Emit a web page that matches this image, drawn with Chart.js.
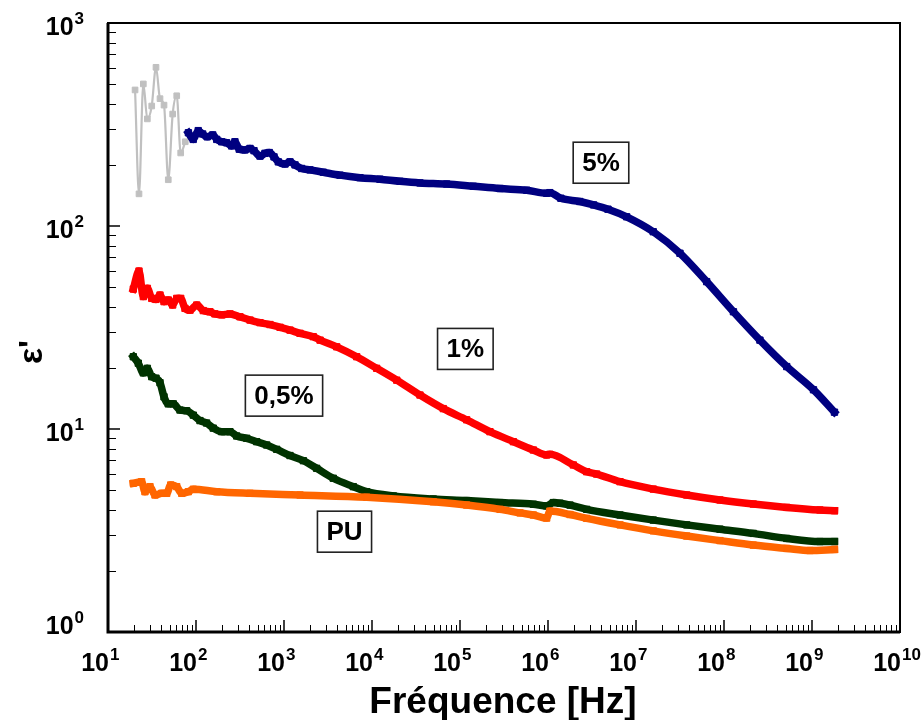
<!DOCTYPE html>
<html>
<head>
<meta charset="utf-8">
<title>ε' - Fréquence</title>
<script src="https://cdn.jsdelivr.net/npm/chart.js@4.4.1/dist/chart.umd.min.js"></script>
<style>
  html, body { margin: 0; padding: 0; background: #fff; }
  #wrap { width: 923px; height: 720px; }
</style>
</head>
<body>
<div id="wrap"><canvas id="chart" width="923" height="720"></canvas></div>
<script>
// axes : exposants des décades
const xTickExps = [1, 2, 3, 4, 5, 6, 7, 8, 9, 10];
const yTickExps = [0, 1, 2, 3];

// 5% - début bruité (gris)
const freqGrey = [20.3, 22.5, 25.2, 28, 31.4, 35.1, 39, 43.3, 48.4, 54.3, 60.4, 67, 75.5];
const epsGrey  = [468, 144, 501, 337, 390, 605, 424, 394, 169, 356, 438, 229, 260];

// 5%
const freq5 = [82, 93, 106, 119, 134, 155, 172, 196, 223, 254, 277, 310, 360, 411, 456, 534, 608, 681, 770, 862,
  1026, 1170, 1334, 1589, 1973, 2797, 4330, 7300, 12300, 20800, 35100, 70600, 141600, 285000, 573000, 966000,
  1.05e6, 1.4e6, 2.3e6, 3.3e6, 4.8e6, 7.83e6, 1.57e7, 3.16e7, 6.35e7, 1.28e8, 2.56e8, 5.16e8, 1.04e9, 1.8e9];
const eps5 = [288, 267, 295, 284, 275, 281, 267, 260, 257, 248, 260, 239, 237, 241, 235, 221, 228, 230, 219, 207,
  202, 207, 200, 192, 189, 184, 178, 173, 170, 166, 163, 161, 157, 153, 150, 145,
  146, 137, 132, 127, 121, 111, 93.7, 73.4, 53.2, 37.8, 27.4, 20.3, 15.6, 12.1];

// 1%
const freq1 = [19.4, 22.5, 25.2, 28, 31.4, 35.1, 39, 43.3, 48.4, 54.3, 60.4, 67, 75, 85.5, 102, 121, 144, 164, 196,
  243, 316, 411, 534, 693, 901, 1170, 1520, 2150, 2570, 3970, 6700, 11300, 19100, 35100, 64600, 119000, 219000,
  404000, 681000, 966000, 1.05e6, 1.94e6, 2.75e6, 3.57e6, 6.58e6, 1.57e7, 3.77e7, 9.0e7, 2.15e8, 5.16e8, 1.23e9, 1.8e9];
const eps1 = [48.9, 60, 44.9, 49.3, 44, 43.5, 45.7, 42.4, 43.2, 40.8, 44, 44, 39.3, 38.5, 40.8, 38.3, 37.8, 36.9, 36.5,
  36.9, 35.7, 34.4, 33.4, 32.7, 31.7, 30.7, 29.6, 28.5, 27.4, 25.4, 22.7, 19.9, 17.4, 14.7, 12.6, 11.1, 9.7,
  8.66, 7.88, 7.45, 7.5, 6.65, 6.16, 6.0, 5.5, 5.06, 4.73, 4.47, 4.27, 4.11, 3.99, 3.96];

// 0,5%
const freq05 = [19.4, 22.1, 25.2, 28, 31.4, 35.1, 39, 43.3, 48.4, 55.2, 65.8, 78.3, 93.2, 111, 132, 157, 196, 243,
  290, 377, 490, 636, 826, 1170, 1660, 2350, 3630, 6130, 8710, 17500, 49700, 119000, 285000, 681000, 966000,
  1.15e6, 1.37e6, 1.78e6, 2.75e6, 6.58e6, 1.57e7, 3.77e7, 9.0e7, 2.15e8, 5.16e8, 1.23e9, 1.8e9];
const eps05 = [22.7, 21.1, 18.9, 19.9, 18.1, 17.8, 16.9, 14.4, 13.3, 13.3, 12.4, 12.3, 11.7, 11.0, 10.7, 10.1, 9.7, 9.7,
  9.24, 9.0, 8.66, 8.34, 7.94, 7.4, 6.98, 6.4, 5.72, 5.2, 4.91, 4.68, 4.52, 4.44, 4.34, 4.26, 4.18,
  4.34, 4.31, 4.22, 4.02, 3.77, 3.56, 3.37, 3.21, 3.06, 2.89, 2.79, 2.79];

// PU
const freqPU = [19.4, 24.1, 26.3, 30, 34.2, 40.8, 46.5, 51.6, 60.4, 68.8, 81.7, 93.2, 172, 411, 1520, 8710, 49700,
  119000, 285000, 481000, 681000, 966000, 1.05e6, 1.78e6, 2.75e6, 6.58e6, 1.57e7, 3.77e7, 9.0e7, 2.15e8, 5.16e8, 9.5e8, 1.8e9];
const epsPU = [5.4, 5.5, 4.91, 5.2, 4.73, 4.82, 4.82, 5.3, 5.2, 4.82, 4.91, 5.05, 4.91, 4.82, 4.73, 4.61, 4.38,
  4.22, 4.02, 3.86, 3.77, 3.64, 3.94, 3.79, 3.63, 3.37, 3.15, 2.97, 2.82, 2.68, 2.58, 2.52, 2.55];

// étiquettes encadrées (position en coordonnées des données)
const labelTexts = ['5%', '1%', '0,5%', 'PU'];
const labelFreqs = [4.0e6, 1.15e5, 1000, 4870];
const labelEps   = [205, 24.8, 14.6, 3.12];

const FONT = '"Liberation Sans", Arial, Helvetica, sans-serif';

function pts(fs, es) {
    return fs.map((f, i) => ({ x: f, y: es[i] }));
}

function serie(label, fs, es, color, width, radius) {
    return {
        label: label,
        data: pts(fs, es),
        borderColor: color,
        backgroundColor: color,
        borderWidth: width,
        borderJoinStyle: 'round',
        borderCapStyle: 'square',
        cubicInterpolationMode: 'monotone',
        pointStyle: 'rect',
        pointRadius: radius,
        pointBackgroundColor: color,
        pointBorderColor: color,
        pointBorderWidth: 1,
        fill: false
    };
}

// dessine "10" + exposant
function drawPow(ctx, exp, x, y, alignRight) {
    const base = 'bold 25px ' + FONT;
    const sup = 'bold 17px ' + FONT;
    ctx.textBaseline = 'alphabetic';
    ctx.font = sup;
    const supW = ctx.measureText(String(exp)).width;
    if (alignRight) {
        ctx.textAlign = 'right';
        ctx.fillText(String(exp), x, y - 11);
        ctx.font = base;
        ctx.fillText('10', x - supW - 1, y);
    } else {
        ctx.font = base;
        ctx.textAlign = 'right';
        ctx.fillText('10', x, y);
        ctx.font = sup;
        ctx.textAlign = 'left';
        ctx.fillText(String(exp), x + 1, y - 11);
    }
}

const decorPlugin = {
    id: 'decor',
    afterDraw(chart) {
        const ctx = chart.ctx;
        const xs = chart.scales.x, ys = chart.scales.y;
        const a = chart.chartArea;
        ctx.save();
        ctx.strokeStyle = '#000';
        ctx.fillStyle = '#000';

        // graduations x (vers l'intérieur)
        for (let i = 0; i < xTickExps.length; i++) {
            const e = xTickExps[i];
            let px = xs.getPixelForValue(Math.pow(10, e));
            ctx.lineWidth = 1.5;
            ctx.beginPath(); ctx.moveTo(px, a.bottom); ctx.lineTo(px, a.bottom - 12); ctx.stroke();
            if (i < xTickExps.length - 1) {
                ctx.lineWidth = 1;
                for (let m = 2; m <= 9; m++) {
                    px = Math.round(xs.getPixelForValue(m * Math.pow(10, e))) + 0.5;
                    ctx.beginPath(); ctx.moveTo(px, a.bottom); ctx.lineTo(px, a.bottom - 7); ctx.stroke();
                }
            }
            drawPow(ctx, e, xs.getPixelForValue(Math.pow(10, e)) + 1, 671, false);
        }

        // graduations y
        for (let i = 0; i < yTickExps.length; i++) {
            const e = yTickExps[i];
            let py = ys.getPixelForValue(Math.pow(10, e));
            ctx.lineWidth = 1.5;
            ctx.beginPath(); ctx.moveTo(a.left, py); ctx.lineTo(a.left + 12, py); ctx.stroke();
            if (i < yTickExps.length - 1) {
                ctx.lineWidth = 1;
                for (let m = 2; m <= 9; m++) {
                    py = Math.round(ys.getPixelForValue(m * Math.pow(10, e))) + 0.5;
                    ctx.beginPath(); ctx.moveTo(a.left, py); ctx.lineTo(a.left + 8, py); ctx.stroke();
                }
            }
            const ty = ys.getPixelForValue(Math.pow(10, e)) + (e === yTickExps[0] ? 2 : 12);
            drawPow(ctx, e, 84, ty, true);
        }

        // cadre
        ctx.lineWidth = 2;
        ctx.strokeRect(a.left, a.top, a.right - a.left, a.bottom - a.top);
        ctx.lineWidth = 3;
        ctx.beginPath();
        ctx.moveTo(a.left, a.top); ctx.lineTo(a.left, a.bottom); ctx.lineTo(a.right, a.bottom);
        ctx.stroke();

        // étiquettes encadrées
        ctx.font = 'bold 26px ' + FONT;
        ctx.textAlign = 'center';
        ctx.textBaseline = 'middle';
        for (let i = 0; i < labelTexts.length; i++) {
            const cx = xs.getPixelForValue(labelFreqs[i]);
            const cy = ys.getPixelForValue(labelEps[i]);
            const w = ctx.measureText(labelTexts[i]).width + 18;
            const h = 41;
            ctx.fillStyle = '#fff';
            ctx.fillRect(cx - w / 2, cy - h / 2, w, h);
            ctx.strokeStyle = '#222';
            ctx.lineWidth = 1.6;
            ctx.strokeRect(cx - w / 2, cy - h / 2, w, h);
            ctx.fillStyle = '#000';
            ctx.fillText(labelTexts[i], cx, cy + 1);
        }

        // titres des axes
        ctx.font = 'bold 37px ' + FONT;
        ctx.textAlign = 'center';
        ctx.textBaseline = 'alphabetic';
        ctx.fillText('Fréquence [Hz]', (a.left + a.right) / 2 - 1, 713);

        ctx.font = 'bold 34px ' + FONT;
        ctx.translate(42, 352);
        ctx.rotate(-Math.PI / 2);
        ctx.fillText("ε'", 0, 0);
        ctx.restore();
    }
};

new Chart(document.getElementById('chart'), {
    type: 'line',
    data: {
        datasets: [
            serie('PU', freqPU, epsPU, '#ff6600', 7.5, 4.5),
            serie('0,5%', freq05, eps05, '#003300', 7.5, 4.5),
            serie('1%', freq1, eps1, '#ff0000', 7.5, 4.5),
            serie('5%', freq5, eps5, '#000080', 7.5, 4.5),
            serie('5% (bruit)', freqGrey, epsGrey, '#c0c0c0', 2.2, 4)
        ]
    },
    options: {
        responsive: false,
        animation: false,
        layout: { padding: { left: 108, right: 23, top: 23, bottom: 88 } },
        plugins: { legend: { display: false }, tooltip: { enabled: false } },
        scales: {
            x: { type: 'logarithmic', min: 10, max: 1e10, display: false },
            y: { type: 'logarithmic', min: 1, max: 1000, display: false }
        }
    },
    plugins: [decorPlugin]
});
</script>
</body>
</html>
